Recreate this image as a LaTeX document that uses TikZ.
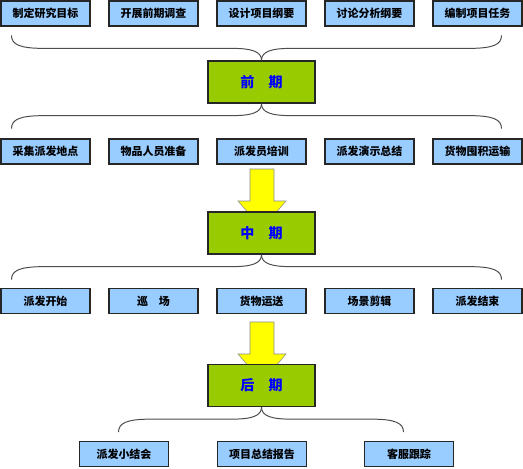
\documentclass[tikz,border=0pt]{standalone}
\usepackage{fontspec}
\newfontfamily\cjk{Noto Sans CJK SC}
\definecolor{taskblue}{HTML}{99CCFF}
\definecolor{phasegreen}{HTML}{99CC00}
\definecolor{arrowyellow}{HTML}{FFFF00}
% half of a curly brace: tip, x side (+1/-1), y side (+1/-1), width
\newcommand{\halfbrace}[4]{%
\draw[brace] (#1) .. controls +(0,{#3*9}) and +({-#2*20},0) .. ++({#2*30},{#3*12})
  -- ++({#2*(#4-62)},0) .. controls +({#2*24},0) and +(0,{-#3*9}) .. ++({#2*32},{#3*13});}
\begin{document}
\begin{tikzpicture}[x=0.025cm,y=-0.025cm,
  task/.style={draw=black!85,line width=0.9pt,fill=taskblue,minimum width=2.225cm,
    minimum height=0.625cm,inner sep=0pt,font=\cjk\bfseries\fontsize{7.8}{9}\selectfont},
  phase/.style={draw=black!85,line width=0.9pt,fill=phasegreen,minimum width=2.675cm,
    minimum height=1.05cm,inner sep=0pt,text=blue,font=\cjk\bfseries\fontsize{10}{12}\selectfont},
  brace/.style={draw=black!70,line width=0.7pt}]
\useasboundingbox (0,0) rectangle (523,468);
% big arrows
\foreach \y in {169,322}
  \draw[draw=black!45,fill=arrowyellow] (250,\y) -- (274,\y) -- (274,\y+32) -- (286,\y+32)
    -- (262,\y+60) -- (238,\y+32) -- (250,\y+32) -- cycle;
% phases
\node[phase] (qian) at (261.5,82) {前　期};
\node[phase] (zhong) at (261.5,233) {中　期};
\node[phase] (hou) at (261.5,385.5) {后　期};
% tasks
\foreach \t [count=\i] in {制定研究目标,开展前期调查,设计项目纲要,讨论分析纲要,编制项目任务}
  \node[task] (a\i) at ({-62.5+108*\i},13.5) {\t};
\foreach \t [count=\i] in {采集派发地点,物品人员准备,派发员培训,派发演示总结,货物囤积运输}
  \node[task] (b\i) at ({-62.5+108*\i},151.5) {\t};
\foreach \t [count=\i] in {派发开始,巡　场,货物运送,场景剪辑,派发结束}
  \node[task] (c\i) at ({-62.5+108*\i},301) {\t};
\node[task] (d1) at (124,454) {派发小结会};
\node[task] (d2) at (262,454) {项目总结报告};
\node[task] (d3) at (409,454) {客服跟踪};
% braces
\halfbrace{qian.north}{-1}{-1}{250}
\halfbrace{qian.north}{1}{-1}{240}
\halfbrace{qian.south}{-1}{1}{250}
\halfbrace{qian.south}{1}{1}{240}
\halfbrace{zhong.south}{-1}{1}{250}
\halfbrace{zhong.south}{1}{1}{240}
\halfbrace{hou.south}{-1}{1}{143}
\halfbrace{hou.south}{1}{1}{142}
\end{tikzpicture}
\end{document}
